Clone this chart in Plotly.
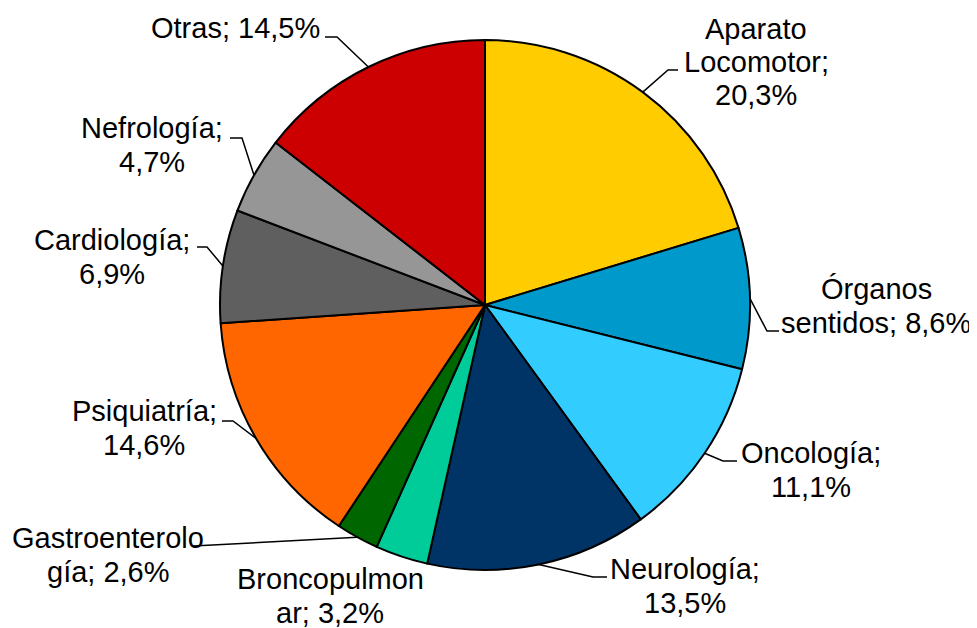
import math
import plotly.graph_objects as go

# ---- data ----
categories = ["Aparato Locomotor", "Órganos sentidos", "Oncología", "Neurología",
              "Broncopulmonar", "Gastroenterología", "Psiquiatría", "Cardiología",
              "Nefrología", "Otras"]
values = [20.3, 8.6, 11.1, 13.5, 3.2, 2.6, 14.6, 6.9, 4.7, 14.5]
label_templates = ["Aparato\nLocomotor;\n{v}%", "Órganos\nsentidos; {v}%", "Oncología;\n{v}%",
                   "Neurología;\n{v}%", "Broncopulmon\nar; {v}%", "Gastroenterolo\ngía; {v}%",
                   "Psiquiatría;\n{v}%", "Cardiología;\n{v}%", "Nefrología;\n{v}%", "Otras; {v}%"]
colors = ["#FFCC00", "#0099CC", "#33CCFF", "#003366", "#00CC99", "#006600",
          "#FF6600", "#5F5F5F", "#969696", "#CC0000"]

# ---- layout (pixels in the screenshot; page body has an 8px margin) ----
OFF = 8
W, H = 977 - OFF, 628 - OFF
CX, CY, R = 485, 305, 265
LINE_H = 33.5
FONT = dict(family="Liberation Sans, Arial, sans-serif", size=29, color="black")
# label block centres
label_pos = [(756, 62), (876, 306), (811, 470), (685, 586), (330, 596),
             (108, 555), (144, 428), (112, 257), (152, 145), (235, 28)]
# leader lines: (elbow, end) or None
leaders = [((668, 70), (678, 70)), ((767, 331), (779, 331)), ((723, 461), (737, 461)),
           ((593, 577), (607, 577)), None, ((193, 546), (193, 546)),
           ((233, 421), (222, 421)), ((207, 247), (197, 247)), ((242, 138), (230, 138)),
           ((337, 37), (325, 37))]

def px(x):
    return (x - OFF) / W

def py(y):
    return 1 - (y - OFF) / H

fig = go.Figure(go.Pie(
    labels=categories, values=values, sort=False, direction="clockwise", rotation=0,
    marker=dict(colors=colors, line=dict(color="black", width=2)),
    textinfo="none", hoverinfo="label+percent",
    domain=dict(x=[px(CX - R), px(CX + R)], y=[py(CY + R), py(CY - R)]),
    showlegend=False,
))

total = sum(values)
annotations = []
shapes = []
cum = 0.0
for i, (v, tpl) in enumerate(zip(values, label_templates)):
    mid = (cum + v / 2) / total * 2 * math.pi
    cum += v
    ex, ey = CX + R * math.sin(mid), CY - R * math.cos(mid)
    txt = tpl.format(v=f"{v:.1f}".replace(".", ","))
    lines = txt.split("\n")
    lx, ly = label_pos[i]
    n = len(lines)
    for k, line in enumerate(lines):
        yy = ly + (k - (n - 1) / 2) * LINE_H
        annotations.append(dict(x=px(lx), y=py(yy), xref="paper", yref="paper",
                                text=line, showarrow=False, font=FONT,
                                xanchor="center", yanchor="middle"))
    if leaders[i] is not None:
        (bx, by), (tx, ty) = leaders[i]
        path = f"M {px(ex)},{py(ey)} L {px(bx)},{py(by)} L {px(tx)},{py(ty)}"
        shapes.append(dict(type="path", path=path, xref="paper", yref="paper",
                           line=dict(color="black", width=1.5)))

fig.update_layout(
    width=W, height=H, margin=dict(l=0, r=0, t=0, b=0),
    paper_bgcolor="white", plot_bgcolor="white",
    annotations=annotations, shapes=shapes,
)
fig.write_html("out.html")
